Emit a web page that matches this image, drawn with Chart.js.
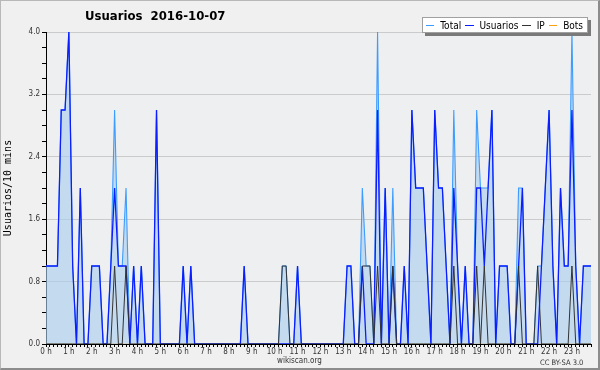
<!DOCTYPE html>
<html>
<head>
<meta charset="utf-8">
<title>Usuarios 2016-10-07</title>
<script src="https://cdn.jsdelivr.net/npm/chart.js@4.4.1/dist/chart.umd.min.js"></script>
<style>
    html, body { margin: 0; padding: 0; background: #f0f0f0; }
    #wrap { position: relative; width: 600px; height: 370px; overflow: hidden; font-family: "DejaVu Sans Condensed", "DejaVu Sans", sans-serif; }
    #wrap canvas { position: absolute; left: 0; top: 0; }
    .frame { position: absolute; left: 0; top: 0; width: 600px; height: 370px; box-sizing: border-box;
             border: 1px solid #b8b8b8; border-right: 2px solid #8c8c8c; border-bottom: 2px solid #8c8c8c; pointer-events: none; }
    .title { position: absolute; left: 85px; top: 8px; font-weight: bold; font-size: 13px; color: #000; white-space: pre; }
    .legend { position: absolute; left: 422px; top: 17px; width: 166px; height: 16px; box-sizing: border-box;
              background: #fff; border: 1px solid #a0a0a0; box-shadow: 3px 3px 0 #7a7a7a;
              display: flex; align-items: center; padding-left: 3px; font-size: 10px; color: #000; }
    .legend .sw { display: inline-block; width: 11px; height: 1px; margin-right: 6px; }
    .legend .tx { margin-right: 4px; }
    .foot { position: absolute; top: 356px; font-size: 8px; color: #333; }
    .cc { position: absolute; top: 358px; left: 540px; font-size: 7.5px; color: #333; }
</style>
</head>
<body>
<div id="wrap">
    <canvas id="chart" width="600" height="370"></canvas>
    <div class="title">Usuarios  2016-10-07</div>
    <div class="legend" id="legend"></div>
    <div class="foot" style="left:277px">wikiscan.org</div>
    <div class="cc">CC BY-SA 3.0</div>
    <div class="frame"></div>
</div>
<script>
// Hour labels on the x axis (one every 6 slots of 10 minutes)
const hourLabels = ['0 h', '1 h', '2 h', '3 h', '4 h', '5 h', '6 h', '7 h', '8 h', '9 h', '10 h', '11 h',
                    '12 h', '13 h', '14 h', '15 h', '16 h', '17 h', '18 h', '19 h', '20 h', '21 h', '22 h', '23 h'];

// Y axis labelled ticks
const yTickLabels = [0.0, 0.8, 1.6, 2.4, 3.2, 4.0];

// 10-minute slots of the day
const slots = [];
for (let h = 0; h < 24; h++) {
    for (let m = 0; m < 60; m += 10) {
        slots.push(h + ':' + String(m).padStart(2, '0'));
    }
}

// Series values, one per 10-minute slot
const total = [
    1, 1, 1, 1, 3, 3, 4, 1, 0, 2,   0, 0, 1, 1, 1, 0, 0, 1, 3, 1,
    1, 2, 0, 1, 0, 1, 0, 0, 0, 3,   0, 0, 0, 0, 0, 0, 1, 0, 1, 0,
    0, 0, 0, 0, 0, 0, 0, 0, 0, 0,   0, 0, 1, 0, 0, 0, 0, 0, 0, 0,
    0, 0, 1, 1, 0, 0, 1, 0, 0, 0,   0, 0, 0, 0, 0, 0, 0, 0, 0, 1,
    1, 0, 0, 2, 1, 1, 0, 4, 0, 2,   0, 2, 0, 0, 1, 0, 3, 2, 2, 2,
    1, 0, 3, 2, 2, 1, 0, 3, 1, 0,   1, 0, 0, 3, 2, 2, 2, 3, 0, 1,
    1, 1, 0, 0, 2, 2, 0, 0, 0, 1,   1, 2, 3, 1, 0, 2, 1, 1, 4, 1,
    0, 1, 1, 1
];
const usuarios = [
    1, 1, 1, 1, 3, 3, 4, 1, 0, 2,   0, 0, 1, 1, 1, 0, 0, 1, 2, 1,
    1, 1, 0, 1, 0, 1, 0, 0, 0, 3,   0, 0, 0, 0, 0, 0, 1, 0, 1, 0,
    0, 0, 0, 0, 0, 0, 0, 0, 0, 0,   0, 0, 1, 0, 0, 0, 0, 0, 0, 0,
    0, 0, 0, 0, 0, 0, 1, 0, 0, 0,   0, 0, 0, 0, 0, 0, 0, 0, 0, 1,
    1, 0, 0, 1, 0, 0, 0, 3, 0, 2,   0, 1, 0, 0, 1, 0, 3, 2, 2, 2,
    1, 0, 3, 2, 2, 1, 0, 2, 1, 0,   1, 0, 0, 2, 2, 1, 2, 3, 0, 1,
    1, 1, 0, 0, 1, 2, 0, 0, 0, 0,   1, 2, 3, 1, 0, 2, 1, 1, 3, 1,
    0, 1, 1, 1
];
const ip = [
    0, 0, 0, 0, 0, 0, 0, 0, 0, 0,   0, 0, 0, 0, 0, 0, 0, 0, 1, 0,
    0, 1, 0, 0, 0, 0, 0, 0, 0, 0,   0, 0, 0, 0, 0, 0, 0, 0, 0, 0,
    0, 0, 0, 0, 0, 0, 0, 0, 0, 0,   0, 0, 0, 0, 0, 0, 0, 0, 0, 0,
    0, 0, 1, 1, 0, 0, 0, 0, 0, 0,   0, 0, 0, 0, 0, 0, 0, 0, 0, 0,
    0, 0, 0, 1, 1, 1, 0, 1, 0, 0,   0, 1, 0, 0, 0, 0, 0, 0, 0, 0,
    0, 0, 0, 0, 0, 0, 0, 1, 0, 0,   0, 0, 0, 1, 0, 1, 0, 0, 0, 0,
    0, 0, 0, 0, 1, 0, 0, 0, 0, 1,   0, 0, 0, 0, 0, 0, 0, 0, 1, 0,
    0, 0, 0, 0
];
const bots = [
    0, 0, 0, 0, 0, 0, 0, 0, 0, 0,   0, 0, 0, 0, 0, 0, 0, 0, 0, 0,
    0, 0, 0, 0, 0, 0, 0, 0, 0, 0,   0, 0, 0, 0, 0, 0, 0, 0, 0, 0,
    0, 0, 0, 0, 0, 0, 0, 0, 0, 0,   0, 0, 0, 0, 0, 0, 0, 0, 0, 0,
    0, 0, 0, 0, 0, 0, 0, 0, 0, 0,   0, 0, 0, 0, 0, 0, 0, 0, 0, 0,
    0, 0, 0, 0, 0, 0, 0, 0, 0, 0,   0, 0, 0, 0, 0, 0, 0, 0, 0, 0,
    0, 0, 0, 0, 0, 0, 0, 0, 0, 0,   0, 0, 0, 0, 0, 0, 0, 0, 0, 0,
    0, 0, 0, 0, 0, 0, 0, 0, 0, 0,   0, 0, 0, 0, 0, 0, 0, 0, 0, 0,
    0, 0, 0, 0
];

const seriesNames = ['Total', 'Usuarios', 'IP', 'Bots'];
const seriesColors = ['#3d9cff', '#0a1eff', '#333333', '#ffa010'];

// Plot area background
const plotBg = {
    id: 'plotBg',
    beforeDraw(chart) {
        const { ctx, chartArea: a } = chart;
        ctx.save();
        ctx.fillStyle = '#eeeff1';
        ctx.fillRect(a.left, a.top, a.right - a.left, a.bottom - a.top);
        ctx.restore();
    }
};

function isMajor(v) {
    return yTickLabels.some(t => Math.abs(t - v) < 1e-6);
}

const tickFont = { family: '"DejaVu Sans Condensed", "DejaVu Sans", sans-serif', size: 8 };

new Chart(document.getElementById('chart'), {
    type: 'line',
    data: {
        labels: slots,
        datasets: [
            { label: seriesNames[0], data: total, borderColor: seriesColors[0], borderWidth: 1.1,
              backgroundColor: 'rgba(170, 205, 238, 0.62)', fill: 'origin', order: 2 },
            { label: seriesNames[1], data: usuarios, borderColor: seriesColors[1], borderWidth: 1.3,
              fill: false, order: 1 },
            { label: seriesNames[2], data: ip, borderColor: seriesColors[2], borderWidth: 1,
              fill: false, order: 0 },
            { label: seriesNames[3], data: bots, borderColor: seriesColors[3], borderWidth: 1,
              fill: false, order: 3 }
        ]
    },
    options: {
        responsive: false,
        animation: false,
        elements: { point: { radius: 0 }, line: { tension: 0 } },
        layout: { padding: { left: 2, top: 32, right: 9, bottom: 12 } },
        plugins: {
            legend: { display: false },
            tooltip: { enabled: false }
        },
        scales: {
            x: {
                type: 'category',
                offset: false,
                afterFit: (scale) => { scale.height = 14; },
                grid: { drawOnChartArea: false, drawTicks: true, tickLength: 3, tickColor: '#000' },
                border: { color: '#000', width: 1 },
                ticks: {
                    autoSkip: false,
                    maxRotation: 0,
                    padding: 0,
                    color: '#333',
                    font: tickFont,
                    callback: (val, idx) => idx % 6 === 0 ? hourLabels[idx / 6] : ''
                }
            },
            y: {
                min: 0,
                max: 4,
                afterFit: (scale) => { scale.width = 44; },
                grid: {
                    color: (ctx) => (ctx.tick && isMajor(ctx.tick.value) && ctx.tick.value > 0) ? '#cbcbcb' : 'rgba(0,0,0,0)',
                    tickColor: '#000',
                    tickLength: 4
                },
                border: { color: '#000', width: 1 },
                ticks: {
                    stepSize: 0.2,
                    padding: 2,
                    color: '#333',
                    font: tickFont,
                    callback: (v) => isMajor(v) ? Number(v).toFixed(1) : ''
                },
                title: {
                    display: true,
                    text: 'Usuarios/10 mins',
                    color: '#000',
                    padding: { top: 0, bottom: 2 },
                    font: { family: '"DejaVu Sans Mono", monospace', size: 10 }
                }
            }
        }
    },
    plugins: [plotBg]
});

// Legend box
const legend = document.getElementById('legend');
seriesNames.forEach((name, i) => {
    legend.innerHTML += '<span class="sw" style="background:' + seriesColors[i] + '"></span><span class="tx">' + name + '</span>';
});
</script>
</body>
</html>
